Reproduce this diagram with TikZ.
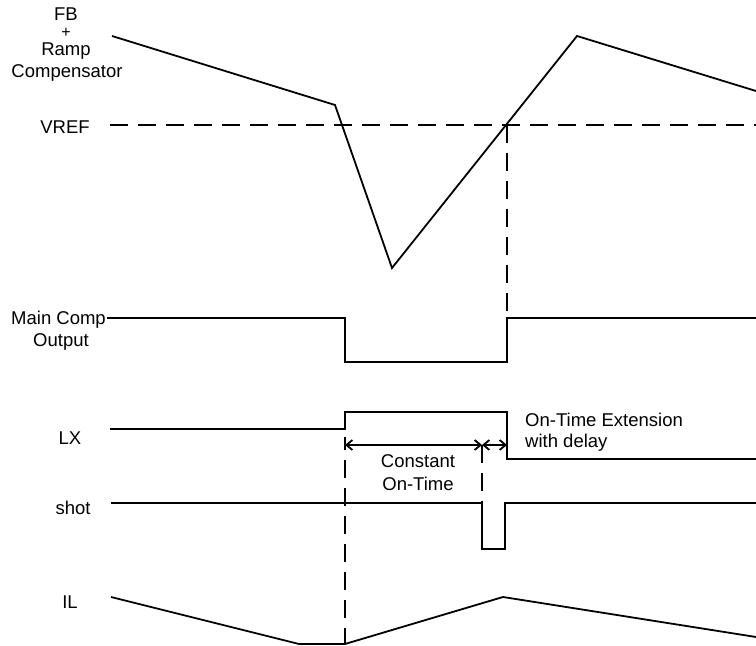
\documentclass[tikz,border=0pt]{standalone}
\usepackage{fontspec}
\setmainfont{Liberation Sans}
\usetikzlibrary{arrows.meta}

\begin{document}
\begin{tikzpicture}[x=1pt,y=1pt,
    wave/.style={line width=1.8pt,line join=miter},
    guide/.style={line width=1.6pt,dash pattern=on 18pt off 10pt},
    lbl/.style={font=\fontsize{18.5}{20}\selectfont,inner sep=0pt},
    span/.style={line width=1.8pt,{Straight Barb[length=6pt,width=10pt]}-{Straight Barb[length=6pt,width=10pt]}}]
    \useasboundingbox (0,0) rectangle (756,646);
    % labels
    \node[lbl,anchor=base] (fb) at (66,625) {FB};
    \node[lbl,font=\fontsize{16}{18}\selectfont] (plus) at (66,613.5) {+};
    \node[lbl,anchor=base] (ramp) at (66,590) {Ramp};
    \node[lbl,anchor=base] (comp) at (67,568) {Compensator};
    \node[lbl] (vref) at (65,519) {VREF};
    \node[lbl,anchor=base east] (main) at (106,321) {Main Comp};
    \node[lbl,anchor=base] (out) at (61,299) {Output};
    \node[lbl] (lx) at (70,208) {LX};
    \node[lbl] (shot) at (73,138) {shot};
    \node[lbl] (il) at (70,44) {IL};
    \node[lbl,anchor=base] (cot1) at (418,178) {Constant};
    \node[lbl,anchor=base] (cot2) at (418,155) {On-Time};
    \node[lbl,anchor=base west] (ext1) at (525,219) {On-Time Extension};
    \node[lbl,anchor=base west] (ext2) at (525,198) {with delay};
    % waveforms
    \draw[wave] (112,610) -- (335,541) -- (392,378) -- (577,610) -- (756,555);
    \draw[wave] (107,328) -- (345,328) -- (345,284) -- (507,284) -- (507,328) -- (756,328);
    \draw[wave] (110,217) -- (345,217) -- (345,234) -- (507,234) -- (507,187) -- (756,187);
    \draw[wave] (111,143) -- (482,143) -- (482,97) -- (505,97) -- (505,143) -- (756,143);
    \draw[wave] (111,49) -- (299,2) -- (345,2) -- (503,49) -- (756,9);
    % guides
    \draw[guide] (110,521) -- (756,521);
    \draw[guide] (507,521) -- (507,329);
    \draw[guide,dash phase=5pt] (345,209) -- (345,2);
    \draw[guide] (482,201) -- (482,143);
    \draw[span] (345,201) -- (482,201);
    \draw[span] (482,201) -- (507,201);
\end{tikzpicture}
\end{document}
